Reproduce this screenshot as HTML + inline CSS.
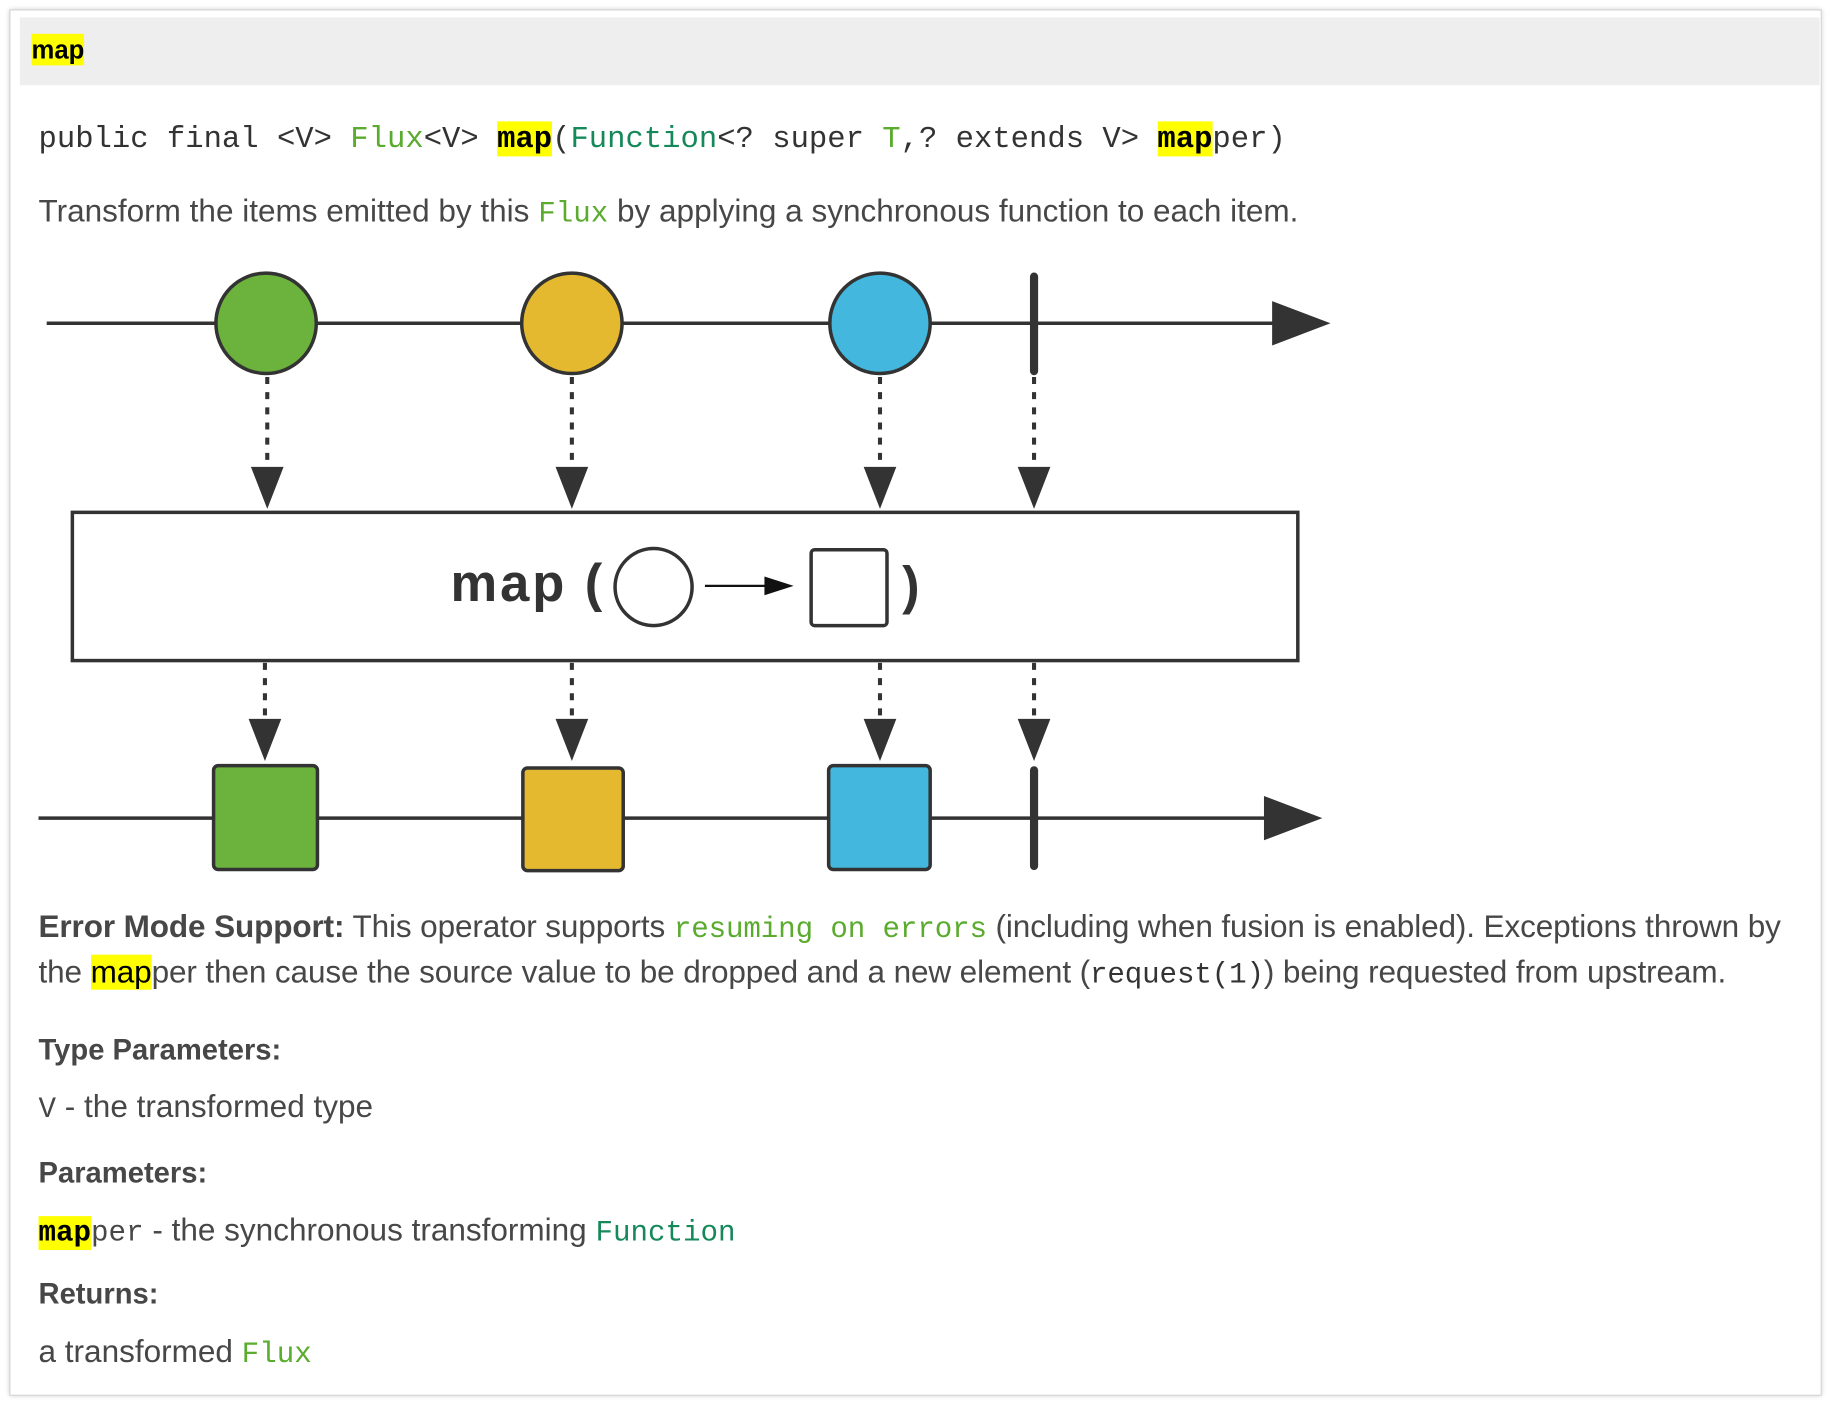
<!DOCTYPE html>
<html><head><meta charset="utf-8"><style>
html,body{margin:0;padding:0;background:#fff;}
body{width:1830px;height:1404px;overflow:hidden;position:relative;}
#w{position:absolute;left:0;top:0;width:1568px;height:1203px;transform:scale(1.1671);transform-origin:0 0;}
.frame{position:absolute;left:8px;top:8px;width:1551px;height:1186px;border:1px solid #d4d4d4;box-shadow:0 0 4px #ccc;}
.hdr{position:absolute;left:17px;top:15px;width:1542px;height:58px;background:#eeeeee;}
.t{position:absolute;font-family:"Liberation Sans","NanumGothic",sans-serif;color:#474747;white-space:nowrap;font-size:27px;}
.m{font-family:"Liberation Mono",monospace;}
.hl{background:#ffff00;color:#000;font-weight:bold;}
.g{color:#5aab2e;}
.f{color:#15895a;}
b{color:#474747;}
</style></head><body><div id="w">
<div class="frame"></div>
<div class="hdr"></div>
<div class="t" style="left:27px;top:30px;font-size:22px;"><span class="hl" style="padding:1px 0;">map</span></div>
<div class="t m" style="left:33px;top:104px;font-size:26.2px;color:#333;">public final &lt;V&gt; <span class="g">Flux</span>&lt;V&gt; <span class="hl m">map</span>(<span class="f">Function</span>&lt;? super <span class="g">T</span>,? extends V&gt; <span class="hl m">map</span>per)</div>
<div class="t" style="left:33px;top:166px;">Transform the items emitted by this <span class="m g" style="font-size:25px;">Flux</span> by applying a synchronous function to each item.</div>

<svg style="position:absolute;left:0;top:0" width="1568" height="1203">
<g stroke="#333" stroke-width="3" fill="none">
<line x1="40" y1="277" x2="1095" y2="277"/>
<line x1="33" y1="701" x2="1090" y2="701"/>
</g>
<polygon points="1090,258 1140,277 1090,296" fill="#333"/>
<polygon points="1083,682 1133,701 1083,720" fill="#333"/>
<g stroke="#333" stroke-width="3">
<circle cx="228" cy="277" r="43" fill="#6bb33c"/>
<circle cx="490" cy="277" r="43" fill="#e5b92f"/>
<circle cx="754" cy="277" r="43" fill="#43b7de"/>
<rect x="183" y="656" width="89" height="89" rx="4" fill="#6bb33c"/>
<rect x="448" y="658" width="86" height="88" rx="4" fill="#e5b92f"/>
<rect x="710" y="656" width="87" height="89" rx="4" fill="#43b7de"/>
</g>
<g stroke="#333" stroke-width="7" stroke-linecap="round">
<line x1="886" y1="237" x2="886" y2="318"/>
<line x1="886" y1="660" x2="886" y2="742"/>
</g>
<g stroke="#333" stroke-width="3.5" stroke-dasharray="6 7">
<line x1="229" y1="323" x2="229" y2="405"/><line x1="490" y1="323" x2="490" y2="405"/>
<line x1="754" y1="323" x2="754" y2="405"/><line x1="886" y1="323" x2="886" y2="405"/>
<line x1="227" y1="568" x2="227" y2="620"/><line x1="490" y1="568" x2="490" y2="620"/>
<line x1="754" y1="568" x2="754" y2="620"/><line x1="886" y1="568" x2="886" y2="620"/>
</g>
<g fill="#333">
<polygon points="215,400 243,400 229,436"/><polygon points="476,400 504,400 490,436"/>
<polygon points="740,400 768,400 754,436"/><polygon points="872,400 900,400 886,436"/>
<polygon points="213,616 241,616 227,652"/><polygon points="476,616 504,616 490,652"/>
<polygon points="740,616 768,616 754,652"/><polygon points="872,616 900,616 886,652"/>
</g>
<rect x="62" y="439" width="1050" height="127" fill="#fff" stroke="#333" stroke-width="3"/>
<text x="386" y="515" font-family="Liberation Sans, sans-serif" font-weight="bold" font-size="45" fill="#333" textLength="130">map (</text>
<circle cx="560" cy="503" r="33" fill="none" stroke="#333" stroke-width="3"/>
<line x1="604" y1="502" x2="665" y2="502" stroke="#111" stroke-width="2"/>
<polygon points="655,494 680,502 655,510" fill="#111"/>
<rect x="695" y="471" width="65" height="65" rx="3" fill="none" stroke="#333" stroke-width="3"/>
<text x="773" y="517" font-family="Liberation Sans, sans-serif" font-weight="bold" font-size="45" fill="#333">)</text>
</svg>

<div class="t" style="left:33px;top:779px;letter-spacing:-0.1px;"><b>Error Mode Support:</b> This operator supports <span class="m g" style="font-size:25px;">resuming on errors</span> (including when fusion is enabled). Exceptions thrown by</div>
<div class="t" style="left:33px;top:818px;letter-spacing:-0.1px;">the <span class="hl" style="font-weight:normal;">map</span>per then cause the source value to be dropped and a new element (<span class="m" style="font-size:25px;color:#333;">request(1)</span>) being requested from upstream.</div>
<div class="t" style="left:33px;top:886px;font-weight:bold;font-size:25px;">Type Parameters:</div>
<div class="t" style="left:33px;top:933px;"><span class="m" style="font-size:25px;">V</span> - the transformed type</div>
<div class="t" style="left:33px;top:991px;font-weight:bold;font-size:25px;">Parameters:</div>
<div class="t" style="left:33px;top:1039px;"><span class="m" style="font-size:25px;"><span class="hl m">map</span>per</span> - the synchronous transforming <span class="m f" style="font-size:25px;">Function</span></div>
<div class="t" style="left:33px;top:1095px;font-weight:bold;font-size:25px;">Returns:</div>
<div class="t" style="left:33px;top:1143px;">a transformed <span class="m g" style="font-size:25px;">Flux</span></div>
</div></body></html>
